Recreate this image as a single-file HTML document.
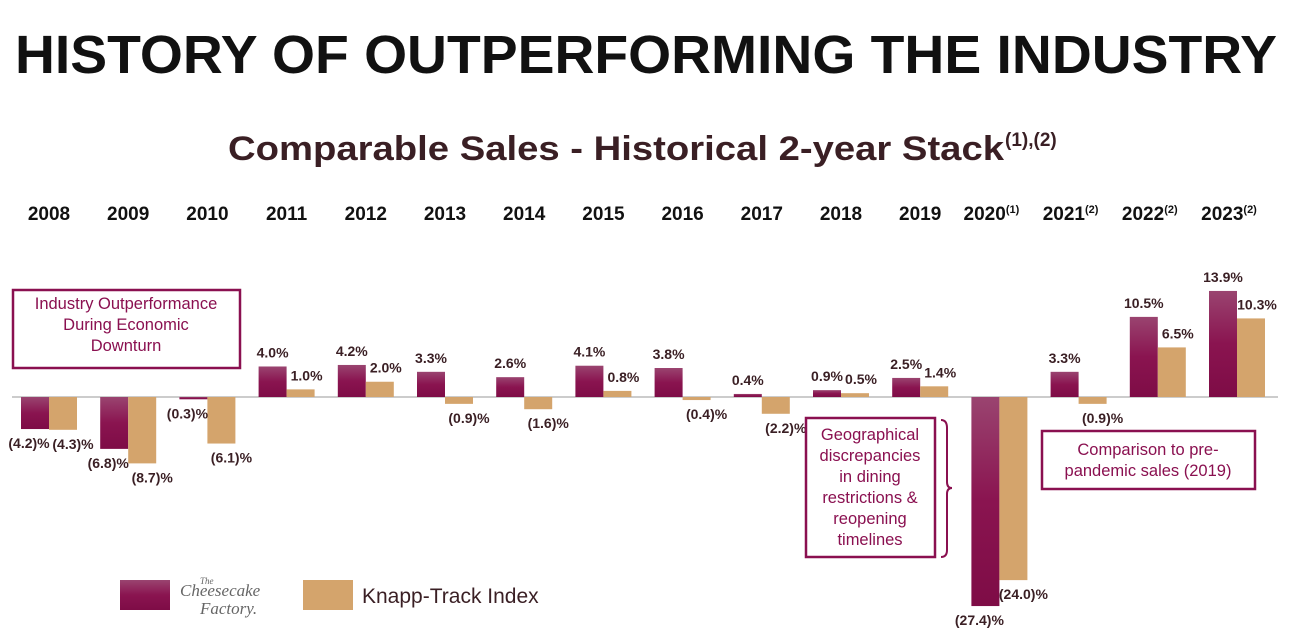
<!DOCTYPE html>
<html><head><meta charset="utf-8">
<style>
body{margin:0;background:#fff;width:1292px;height:636px;overflow:hidden;font-family:"Liberation Sans",sans-serif}
svg{display:block}
</style></head>
<body>
<svg id="chart" width="1292" height="636" viewBox="0 0 1292 636">
<defs>
<linearGradient id="gm" x1="0" y1="0" x2="0" y2="1"><stop offset="0" stop-color="#9a4470"/><stop offset="0.5" stop-color="#8a1450"/><stop offset="1" stop-color="#7e0c46"/></linearGradient>
</defs>
<text x="646" y="73" text-anchor="middle" font-size="54" font-weight="bold" fill="#111" textLength="1262" lengthAdjust="spacingAndGlyphs">HISTORY OF OUTPERFORMING THE INDUSTRY</text>
<text x="616" y="160" text-anchor="middle" font-size="34" font-weight="bold" fill="#3a1f24" textLength="776" lengthAdjust="spacingAndGlyphs">Comparable Sales - Historical 2-year Stack</text>
<text x="1005" y="146" font-size="19" font-weight="bold" fill="#3a1f24">(1),(2)</text>
<line x1="12" y1="397" x2="1278" y2="397" stroke="#bbb" stroke-width="1.5"/>
<g id="years"></g><g id="bars"></g><g id="labels"></g>
<g>
<rect x="13" y="290" width="227" height="78" fill="#fff" stroke="#8a1050" stroke-width="2.5"/>
<text x="126" y="309" text-anchor="middle" font-size="16.5" fill="#8a1050"><tspan x="126">Industry Outperformance</tspan><tspan x="126" dy="21">During Economic</tspan><tspan x="126" dy="21">Downturn</tspan></text>
</g>
<g>
<rect x="806" y="418" width="129" height="139" fill="#fff" stroke="#8a1050" stroke-width="2.5"/>
<text font-size="16.5" fill="#8a1050" text-anchor="middle"><tspan x="870" y="440">Geographical</tspan><tspan x="870" dy="21">discrepancies</tspan><tspan x="870" dy="21">in dining</tspan><tspan x="870" dy="21">restrictions &amp;</tspan><tspan x="870" dy="21">reopening</tspan><tspan x="870" dy="21">timelines</tspan></text>
<path d="M941 420 Q947 420 947 428 L947 482 Q947 488 952 488 Q947 488 947 494 L947 550 Q947 557 941 557" fill="none" stroke="#8a1050" stroke-width="2"/>
</g>
<g>
<rect x="1042" y="431" width="213" height="58" fill="#fff" stroke="#8a1050" stroke-width="2.5"/>
<text font-size="16.5" fill="#8a1050" text-anchor="middle"><tspan x="1148" y="455">Comparison to pre-</tspan><tspan x="1148" dy="21">pandemic sales (2019)</tspan></text>
</g>
<g>
<rect x="120" y="580" width="50" height="30" fill="url(#gm)"/>
<text font-family="Liberation Serif,serif" fill="#666" font-style="italic"><tspan x="200" y="584" font-size="9">The</tspan><tspan x="180" y="596" font-size="17">Cheesecake</tspan><tspan x="200" y="614" font-size="17">Factory.</tspan></text>
<rect x="303" y="580" width="50" height="30" fill="#d4a46c"/>
<text x="362" y="603" font-size="21" fill="#3a1f24">Knapp-Track Index</text>
</g>
</svg>
<script>
const years=["2008","2009","2010","2011","2012","2013","2014","2015","2016","2017","2018","2019","2020","2021","2022","2023"];
const yearNotes=["","","","","","","","","","","","","(1)","(2)","(2)","(2)"];
const cheesecake=[-4.2,-6.8,-0.3,4.0,4.2,3.3,2.6,4.1,3.8,0.4,0.9,2.5,-27.4,3.3,10.5,13.9];
const knapp=[-4.3,-8.7,-6.1,1.0,2.0,-0.9,-1.6,0.8,-0.4,-2.2,0.5,1.4,-24.0,-0.9,6.5,10.3];
const NS="http://www.w3.org/2000/svg";
const x0=49,step=79.2,bw=28,base=397,k=7.63;
const xc=i=>x0+i*step;
const y=v=>base-v*k;
const fmt=v=>v<0?"("+Math.abs(v).toFixed(1)+")%":v.toFixed(1)+"%";
function mk(tag,attrs,parent){const e=document.createElementNS(NS,tag);for(const a in attrs)e.setAttribute(a,attrs[a]);parent.appendChild(e);return e;}
const gy=document.getElementById('years'),gb=document.getElementById('bars'),gl=document.getElementById('labels');
years.forEach((yr,i)=>{
  const t=mk('text',{x:xc(i)-(yearNotes[i]?8:0),y:220,'text-anchor':'middle','font-size':19,'font-weight':'bold',fill:'#111'},gy);
  
  
  t.textContent=yr;
  if(yearNotes[i]){const s=mk('tspan',{'font-size':11,dy:-7},t);s.textContent=yearNotes[i];}
  [[cheesecake[i],'url(#gm)',xc(i)-bw,'cheesecake'],[knapp[i],'#d4a46c',xc(i),'knapp']].forEach(([v,c,bx,nm],j)=>{
    const top=Math.min(y(v),base),h=Math.abs(y(v)-base);
    const r=mk('rect',{x:bx,y:top,width:bw,height:Math.max(h,1.5),fill:c},gb);
    
    
    let lx=bx+bw/2+(j?6:0),ly;
    if(v>=0){ly=y(v)-9;}else{ly=y(v)+19;lx+= j?4:-6;}
    const t2=mk('text',{x:lx,y:ly,'text-anchor':'middle','font-size':14,'font-weight':'bold',fill:'#3a1f24'},gl);
    
    
    t2.textContent=fmt(v);
  });
});
</script>
</body></html>
